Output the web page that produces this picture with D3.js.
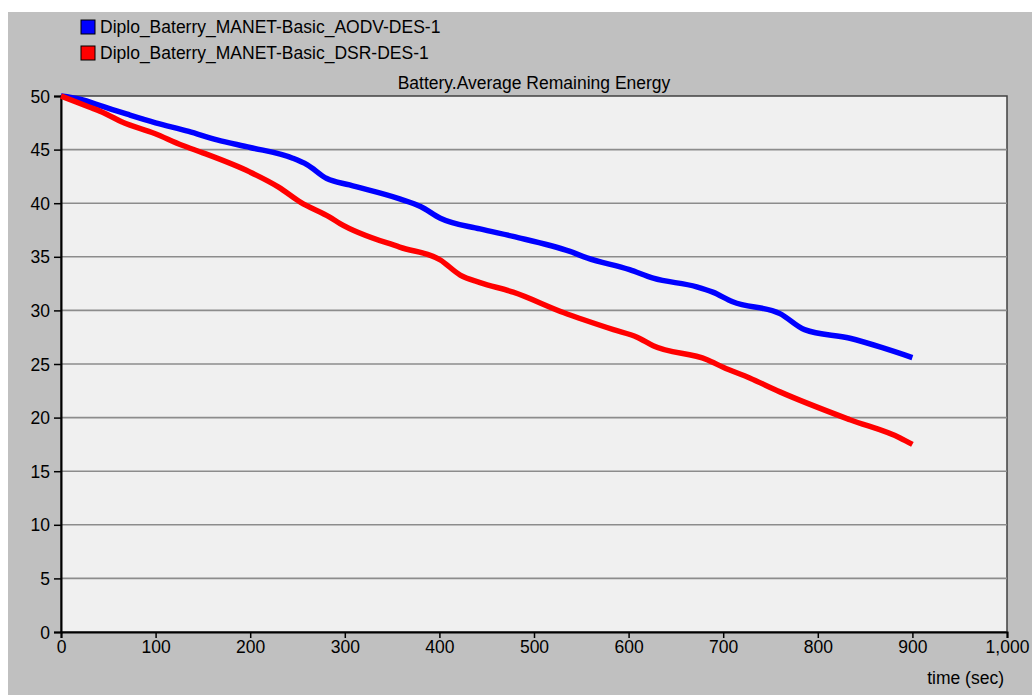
<!DOCTYPE html>
<html lang="en">
<head>
    <meta charset="UTF-8">
    <title>Battery.Average Remaining Energy</title>
    <script src="https://d3js.org/d3.v7.min.js"></script>
    <style>
        body { margin: 0; background: #fff; }
        svg text { font-family: "Liberation Sans", Arial, sans-serif; fill: #000; }
    </style>
</head>
<body>
    <div id="chart"></div>
    <script>
        // series
        const aodvTime = [0, 20, 45, 70, 100, 135, 165, 200, 245, 260, 281, 305, 358, 380, 401, 443, 478, 538, 556, 601, 626, 672, 689, 710, 760, 786, 834, 869, 900];
        const aodvEnergy = [50, 49.7, 49.0, 48.3, 47.5, 46.7, 45.9, 45.2, 44.2, 43.6, 42.3, 41.7, 40.4, 39.7, 38.6, 37.6, 36.9, 35.5, 34.9, 33.8, 33.0, 32.2, 31.7, 30.8, 29.7, 28.2, 27.4, 26.5, 25.6];
        const dsrTime = [0, 29, 46, 64, 99, 128, 150, 200, 230, 253, 284, 295, 358, 401, 422, 443, 478, 531, 584, 609, 626, 683, 700, 728, 760, 834, 887, 900];
        const dsrEnergy = [50, 49.0, 48.4, 47.6, 46.5, 45.4, 44.7, 42.9, 41.5, 40.1, 38.7, 38.1, 35.9, 34.7, 33.3, 32.6, 31.7, 29.8, 28.2, 27.5, 26.7, 25.4, 24.7, 23.7, 22.4, 19.8, 18.1, 17.5];
        const seriesNames = ["Diplo_Baterry_MANET-Basic_AODV-DES-1", "Diplo_Baterry_MANET-Basic_DSR-DES-1"];
        const seriesColors = ["#0000ff", "#ff0000"];
        const xTicks = [0, 100, 200, 300, 400, 500, 600, 700, 800, 900, 1000];
        const yTicks = [0, 5, 10, 15, 20, 25, 30, 35, 40, 45, 50];
        const chartTitle = "Battery.Average Remaining Energy";
        const xLabel = "time (sec)";

        const W = 1032, H = 695;
        const plot = { left: 61, top: 96, right: 1007, bottom: 632 };
        const fontSize = "17.5px";

        const svg = d3.select("#chart").append("svg")
            .attr("width", W).attr("height", H);

        // grey window background
        svg.append("rect")
            .attr("x", 8).attr("y", 12)
            .attr("width", W - 8).attr("height", H - 12)
            .attr("fill", "#c0c0c0");

        const x = d3.scaleLinear().domain([0, 1000]).range([plot.left, plot.right]);
        const y = d3.scaleLinear().domain([0, 50]).range([plot.bottom, plot.top]);

        // plot area
        svg.append("rect")
            .attr("x", plot.left).attr("y", plot.top)
            .attr("width", plot.right - plot.left)
            .attr("height", plot.bottom - plot.top)
            .attr("fill", "#f0f0f0")
            .attr("stroke", "#404040")
            .attr("stroke-width", 1.5);

        // horizontal grid lines
        svg.append("g")
            .selectAll("line")
            .data(yTicks.filter(d => d > 0 && d < 50))
            .join("line")
            .attr("x1", plot.left).attr("x2", plot.right)
            .attr("y1", d => y(d)).attr("y2", d => y(d))
            .attr("stroke", "#8c8c8c")
            .attr("stroke-width", 1.6);

        // axes
        const xAxis = svg.append("g")
            .attr("transform", `translate(0,${plot.bottom})`)
            .call(d3.axisBottom(x).tickValues(xTicks).tickSize(6).tickPadding(3).tickFormat(d3.format(",")));
        const yAxis = svg.append("g")
            .attr("transform", `translate(${plot.left},0)`)
            .call(d3.axisLeft(y).tickValues(yTicks).tickSize(7).tickPadding(4));

        [xAxis, yAxis].forEach(g => {
            g.select(".domain").attr("stroke", "#000").attr("stroke-width", 2);
            g.selectAll(".tick line").attr("stroke", "#000").attr("stroke-width", 1.5);
            g.selectAll(".tick text")
                .attr("font-size", fontSize)
                .attr("font-family", "Liberation Sans, Arial, sans-serif")
                .attr("fill", "#000");
        });
        yAxis.selectAll(".tick text").attr("dy", "0.35em");

        // lines
        const seriesData = [
            aodvTime.map((t, i) => ({ t, v: aodvEnergy[i] })),
            dsrTime.map((t, i) => ({ t, v: dsrEnergy[i] }))
        ];
        const line = d3.line()
            .x(d => x(d.t))
            .y(d => y(d.v))
            .curve(d3.curveMonotoneX);

        seriesData.forEach((data, i) => {
            svg.append("path")
                .datum(data)
                .attr("fill", "none")
                .attr("stroke", seriesColors[i])
                .attr("stroke-width", 5.5)
                .attr("stroke-linejoin", "round")
                .attr("d", line);
        });

        // title
        svg.append("text")
            .attr("x", (plot.left + plot.right) / 2)
            .attr("y", 89)
            .attr("text-anchor", "middle")
            .attr("font-size", fontSize)
            .text(chartTitle);

        // x axis label
        svg.append("text")
            .attr("x", 1004)
            .attr("y", 684)
            .attr("text-anchor", "end")
            .attr("font-size", fontSize)
            .text(xLabel);

        // legend
        const legend = svg.append("g");
        seriesNames.forEach((name, i) => {
            const row = legend.append("g").attr("transform", `translate(81,${20 + i * 26})`);
            row.append("rect")
                .attr("width", 14).attr("height", 14)
                .attr("fill", seriesColors[i])
                .attr("stroke", "#000")
                .attr("stroke-width", 1);
            row.append("text")
                .attr("x", 19).attr("y", 13)
                .attr("font-size", fontSize)
                .text(name);
        });
    </script>
</body>
</html>
